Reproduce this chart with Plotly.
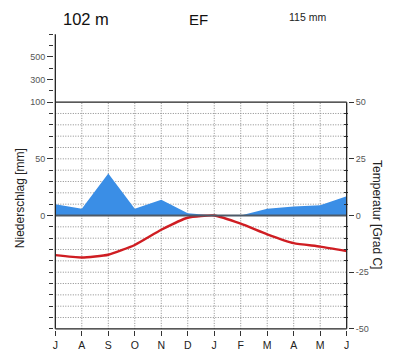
import plotly.graph_objects as go

# Climate diagram (Walter-Lieth style), July to June
months = ["J", "A", "S", "O", "N", "D", "J", "F", "M", "A", "M", "J"]
precip_mm = [10, 6, 37, 6, 14, 2, 0, 0, 6, 8, 9, 17]
temp_c = [-17.5, -18.5, -17.3, -13.0, -6.3, -1.0, 0.0, -3.6, -8.3, -12.2, -13.7, -15.7]

station_height = "102 m"
climate_class = "EF"
annual_precip = "115 mm"

# precipitation above 100 mm is drawn on a 1:10 compressed scale
def precip_to_axis(v):
    return v if v <= 100 else 100 + (v - 100) / 10.0

x_idx = list(range(len(months)))
y_precip = [precip_to_axis(v) for v in precip_mm]

fig = go.Figure()

fig.add_trace(go.Scatter(
    x=x_idx, y=y_precip, mode="lines", fill="tozeroy",
    fillcolor="#3a8ee6", line=dict(width=0, color="#3a8ee6"),
    hoverinfo="skip", showlegend=False, yaxis="y",
))
fig.add_trace(go.Scatter(
    x=x_idx, y=temp_c, mode="lines",
    line=dict(color="#cf1d22", width=2.4, shape="spline", smoothing=0.5),
    hoverinfo="skip", showlegend=False, yaxis="y2",
))

shapes = []
grid = dict(color="#8a8a8a", width=1, dash="1px,1.5px")
for mm in range(-90, 100, 10):
    if mm == 0:
        continue
    shapes.append(dict(type="line", xref="x", yref="y", x0=0, x1=11, y0=mm, y1=mm,
                       line=grid, layer="below"))
for i in range(1, 11):
    shapes.append(dict(type="line", xref="x", yref="y", x0=i, x1=i, y0=-100, y1=100,
                       line=grid, layer="below"))

frame = dict(color="#222222", width=1.3)
shapes += [
    dict(type="line", xref="x", yref="y", x0=0, x1=11, y0=0, y1=0,
         line=dict(color="#4d5a68", width=2), layer="above"),
    dict(type="line", xref="x", yref="y", x0=0, x1=0, y0=-100, y1=160, line=frame, layer="above"),
    dict(type="line", xref="x", yref="y", x0=11, x1=11, y0=-100, y1=100, line=frame, layer="above"),
    dict(type="line", xref="x", yref="y", x0=0, x1=11, y0=100, y1=100, line=frame, layer="above"),
    dict(type="line", xref="x", yref="y", x0=0, x1=11, y0=-100, y1=-100, line=frame, layer="above"),
]

left_major = [0, 50, 100, 300, 500]
left_minor = [v for v in range(-100, 101, 10) if v not in left_major] + [200, 400, 600, 700]
right_major = [-50, -25, 0, 25, 50]
right_minor = [v for v in range(-50, 51, 5) if v not in right_major]

tick_font = dict(family="Liberation Sans, Arial, sans-serif", size=9, color="#555555")


def label(text, x, y, size, color="#111111", angle=0):
    return dict(text=text, xref="paper", yref="paper", x=x, y=y,
                xanchor="center", yanchor="middle", textangle=angle,
                showarrow=False, font=dict(size=size, color=color))


fig.update_layout(
    width=398, height=351,
    margin=dict(l=54, r=50, t=33, b=21, autoexpand=False),
    paper_bgcolor="white", plot_bgcolor="white",
    font=dict(family="Liberation Sans, Arial, sans-serif", color="#222222"),
    xaxis=dict(
        range=[-0.05, 11.05], tickmode="array", tickvals=x_idx, ticktext=months,
        ticks="outside", ticklen=5, tickcolor="#333333", showgrid=False, zeroline=False,
        showline=False, tickfont=dict(size=10.5, color="#222222"), ticklabelstandoff=0,
        automargin=False,
    ),
    yaxis=dict(
        range=[-101, 161], tickmode="array",
        tickvals=[precip_to_axis(v) for v in left_major],
        ticktext=[str(v) for v in left_major],
        ticks="outside", ticklen=6, tickcolor="#333333",
        minor=dict(tickmode="array", tickvals=[precip_to_axis(v) for v in left_minor],
                   ticks="outside", ticklen=4, tickcolor="#333333", showgrid=False),
        showgrid=False, zeroline=False, showline=False, tickfont=tick_font,
        automargin=False,
    ),
    yaxis2=dict(
        range=[-50.5, 80.5], overlaying="y", side="right", tickmode="array",
        tickvals=right_major, ticktext=[str(v) for v in right_major],
        ticks="outside", ticklen=5, tickcolor="#333333",
        minor=dict(tickmode="array", tickvals=right_minor,
                   ticks="inside", ticklen=4, tickcolor="#333333", showgrid=False),
        showgrid=False, zeroline=False, showline=False, tickfont=tick_font,
        automargin=False,
    ),
    shapes=shapes,
    annotations=[
        label(station_height, 0.109, 1.047, 16.5),
        label(climate_class, 0.49, 1.044, 15),
        label(annual_precip, 0.861, 1.054, 10.5, "#222222"),
        label("Niederschlag [mm]", -0.1156, 0.444, 12, "#222222", -90),
        label("Temperatur [Grad C]", 1.0986, 0.387, 12, "#222222", 90),
    ],
)

fig.write_html("out.html")
